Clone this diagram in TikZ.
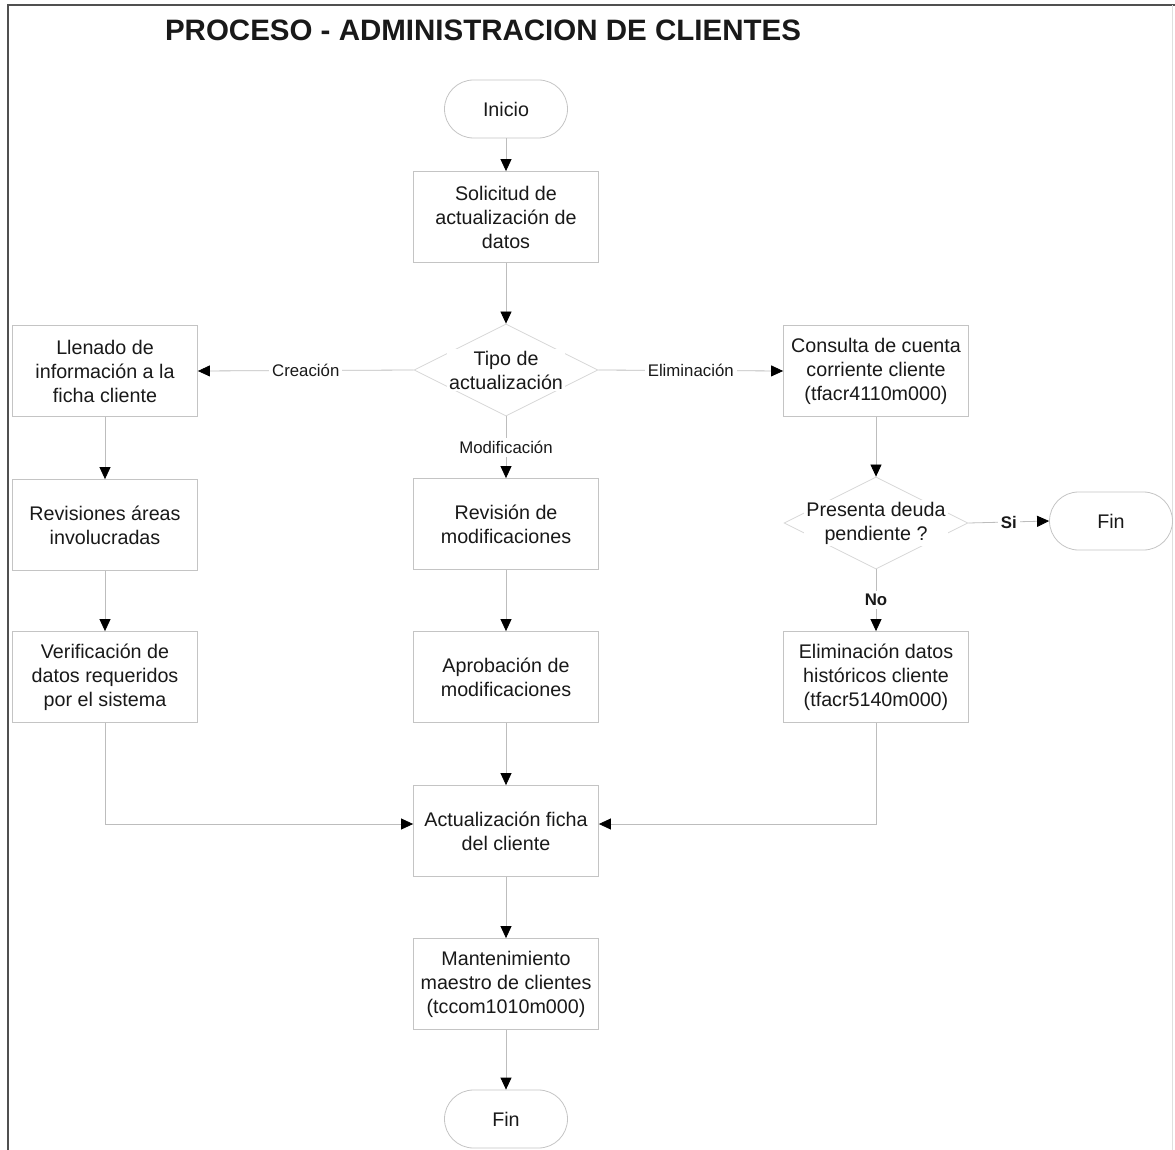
\documentclass[tikz,border=0pt]{standalone}
\usepackage{fontspec}
\setmainfont{Liberation Sans}
\usetikzlibrary{shapes.geometric,arrows.meta,calc}
\definecolor{edgegray}{HTML}{C4C4C4}
\definecolor{diagray}{HTML}{D6D6D6}
\definecolor{linegray}{HTML}{BDBDBD}
\definecolor{framegray}{HTML}{505050}
\begin{document}
\begin{tikzpicture}[x=1pt,y=-1pt,
  every node/.style={font=\fontsize{19.7}{24}\selectfont, text=black!90},
  stepbox/.style={draw=edgegray, line width=0.8pt, fill=white, minimum width=185pt,
    minimum height=91pt, align=center, inner sep=2pt},
  term/.style={draw=edgegray, line width=0.8pt, rounded corners=29pt,
    minimum width=123pt, minimum height=58pt},
  decision/.style={draw=diagray, line width=0.8pt, diamond, minimum width=184pt,
    minimum height=92pt, inner sep=0pt},
  dtext/.style={fill=white, align=center, inner sep=2pt},
  flow/.style={draw=linegray, line width=0.8pt,
    -{Triangle[length=12pt,width=11pt,color=black]}},
  lbl/.style={fill=white, inner sep=3pt, font=\fontsize{16.8}{20}\selectfont},
  lblb/.style={lbl, font=\bfseries\fontsize{16.8}{20}\selectfont},
]
\useasboundingbox (0,0) rectangle (1175,1150);

% frame
\draw[framegray, line width=2pt] (1175,5) -- (8,5) -- (8,1150);
\draw[gray!25, line width=1pt] (1172,5) -- (1172,1150);

% title
\node[font=\bfseries\fontsize{29.5}{34}\selectfont] (title) at (483,30)
  {PROCESO - ADMINISTRACION DE CLIENTES};

% central column
\node[term] (ini) at (506,109) {Inicio};
\node[stepbox] (sol) at (506,217) {Solicitud de\\actualización de\\datos};
\node[decision] (tipo) at (506,370) {};
\node[dtext] (tipot) at (tipo) {Tipo de\\actualización};
\node[stepbox] (rev) at (506,524) {Revisión de\\modificaciones};
\node[stepbox] (apr) at (506,677) {Aprobación de\\modificaciones};
\node[stepbox] (act) at (506,831) {Actualización ficha\\del cliente};
\node[stepbox] (man) at (506,984) {Mantenimiento\\maestro de clientes\\(tccom1010m000)};
\node[term] (fin) at (506,1119) {Fin};

% left column
\node[stepbox] (lle) at (105,371) {Llenado de\\información a la\\ficha cliente};
\node[stepbox] (rvs) at (105,525) {Revisiones áreas\\involucradas};
\node[stepbox] (ver) at (105,677) {Verificación de\\datos requeridos\\por el sistema};

% right column
\node[stepbox] (con) at (876,371) {Consulta de cuenta\\corriente cliente\\(tfacr4110m000)};
\node[decision] (deu) at (876,523) {};
\node[dtext] (deut) at (deu) {Presenta deuda\\pendiente ?};
\node[term] (fin2) at (1111,521) {Fin};
\node[stepbox] (eli) at (876,677) {Eliminación datos\\históricos cliente\\(tfacr5140m000)};

% connectors
\draw[flow] (ini) -- (sol);
\draw[flow] (sol) -- (tipo);
\draw[flow] (tipo.west) -- node[lbl] {Creación} (lle.east);
\draw[flow] (tipo.east) -- node[lbl] {Eliminación} (con.west);
\draw[flow] (tipo.south) -- node[lbl] {Modificación} (rev.north);
\draw[flow] (lle) -- (rvs);
\draw[flow] (rvs) -- (ver);
\draw[flow] (rev) -- (apr);
\draw[flow] (apr) -- (act);
\draw[flow] (act) -- (man);
\draw[flow] (man) -- (fin);
\draw[flow] (con) -- (deu);
\draw[flow] (deu.east) -- node[lblb] {Si} (fin2.west);
\draw[flow] (deu.south) -- node[lblb] {No} (eli.north);
\coordinate (actL) at ([yshift=7pt]act.west);
\coordinate (actR) at ([yshift=7pt]act.east);
\draw[flow] (ver.south) |- (actL);
\draw[flow] (eli.south) |- (actR);
\end{tikzpicture}
\end{document}
